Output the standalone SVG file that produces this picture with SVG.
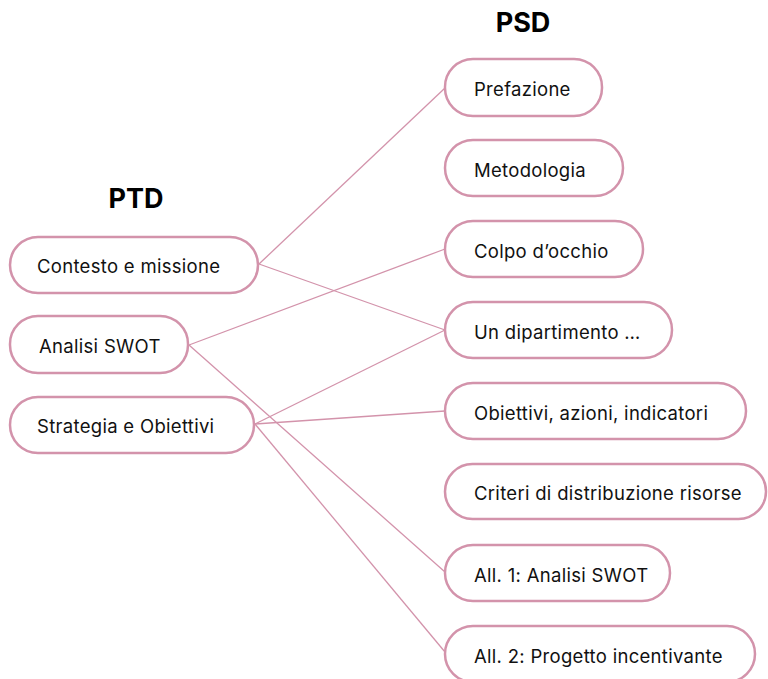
<svg xmlns="http://www.w3.org/2000/svg" width="768" height="679" viewBox="0 0 768 679">
<style>
.box{fill:#fff;stroke:#d393ab;stroke-width:2.5}
.lbl{font-family:Inter,"Noto Sans",sans-serif;font-size:18.5px;letter-spacing:0.3px;fill:#111;dominant-baseline:central}
.ttl{font-family:Inter,"Noto Sans",sans-serif;font-size:27px;font-weight:700;fill:#000;text-anchor:middle}
.con{stroke:#d393ab;stroke-width:1.3;fill:none}
</style>
<rect width="768" height="679" fill="#fff"/>
<text class="ttl" x="136" y="208">PTD</text>
<text class="ttl" x="523" y="32">PSD</text>
<g id="connectors">
<line class="con" x1="259" y1="264" x2="445" y2="88"/>
<line class="con" x1="259" y1="264" x2="445" y2="330"/>
<line class="con" x1="189" y1="345" x2="445" y2="249"/>
<line class="con" x1="189" y1="345" x2="445" y2="572"/>
<line class="con" x1="255" y1="424" x2="445" y2="330"/>
<line class="con" x1="255" y1="424" x2="445" y2="411"/>
<line class="con" x1="255" y1="424" x2="445" y2="652"/>
</g>
<g id="ptd-contesto"><rect class="box" x="10" y="237" width="248" height="56" rx="28"/><text class="lbl" x="37" y="266">Contesto e missione</text></g>
<g id="ptd-swot"><rect class="box" x="10" y="316" width="178" height="57" rx="28"/><text class="lbl" x="39" y="346">Analisi SWOT</text></g>
<g id="ptd-strategia"><rect class="box" x="10" y="397" width="244" height="56" rx="28"/><text class="lbl" x="37" y="426">Strategia e Obiettivi</text></g>
<g id="psd-prefazione"><rect class="box" x="445" y="59" width="157" height="57" rx="28"/><text class="lbl" x="474" y="89">Prefazione</text></g>
<g id="psd-metodologia"><rect class="box" x="445" y="140" width="178" height="56" rx="28"/><text class="lbl" x="474" y="170">Metodologia</text></g>
<g id="psd-colpo"><rect class="box" x="445" y="221" width="198" height="56" rx="28"/><text class="lbl" x="474" y="251">Colpo d’occhio</text></g>
<g id="psd-dipartimento"><rect class="box" x="445" y="302" width="227" height="56" rx="28"/><text class="lbl" x="474" y="332">Un dipartimento …</text></g>
<g id="psd-obiettivi"><rect class="box" x="445" y="383" width="301" height="56" rx="28"/><text class="lbl" x="474" y="413">Obiettivi, azioni, indicatori</text></g>
<g id="psd-criteri"><rect class="box" x="445" y="464" width="321" height="55" rx="27.5"/><text class="lbl" x="474" y="493">Criteri di distribuzione risorse</text></g>
<g id="psd-all1"><rect class="box" x="445" y="545" width="225" height="56" rx="28"/><text class="lbl" x="474" y="575">All. 1: Analisi SWOT</text></g>
<g id="psd-all2"><rect class="box" x="445" y="626" width="310" height="56" rx="28"/><text class="lbl" x="474" y="656">All. 2: Progetto incentivante</text></g>
</svg>
